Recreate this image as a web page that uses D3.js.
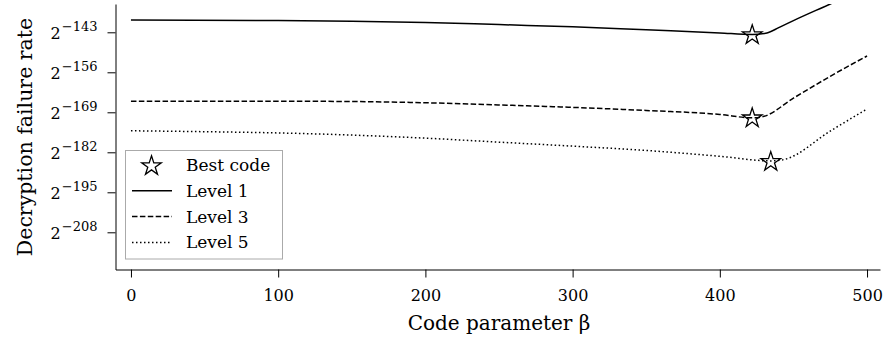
<!DOCTYPE html>
<html>
<head>
<meta charset="utf-8">
<script src="https://cdn.jsdelivr.net/npm/d3@7"></script>
<style>
  body { margin: 0; background: #fff; }
  text { font-family: "DejaVu Serif", serif; fill: #000; }
</style>
</head>
<body>
<div id="chart"></div>
<script>
// values; y values are log2 exponents
let level1Beta = [0, 100, 150, 200, 250, 300, 350, 400, 422, 432, 440, 450, 475, 500]
let level1Exp = [-139.0, -139.2, -139.4, -139.8, -140.5, -141.2, -142.2, -143.2, -143.7, -143.2, -141.5, -139.2, -133.8, -128.3]

let level3Beta = [0, 100, 150, 200, 250, 300, 350, 400, 422, 430, 450, 475, 500]
let level3Exp = [-165.4, -165.4, -165.5, -165.9, -166.6, -167.4, -168.4, -169.7, -170.8, -170.3, -164.4, -157.3, -150.7]

let level5Beta = [0, 50, 100, 150, 200, 250, 300, 350, 400, 435, 444, 475, 500]
let level5Exp = [-175.0, -175.3, -175.7, -176.4, -177.4, -178.7, -180.0, -181.4, -183.3, -184.8, -184.3, -175.1, -167.9]

let starBeta = [422, 422, 434.6]
let starExp = [-143.9, -170.9, -185.1]

let xTicks = [0, 100, 200, 300, 400, 500]
let yTickExp = [-143, -156, -169, -182, -195, -208]

let seriesNames = ["Level 1", "Level 3", "Level 5"]

let width = 883
let height = 341
let margin = { top: 4, right: 3, bottom: 71.5, left: 115.5 }

let x = d3.scaleLinear()
    .domain([-10.5, 508.8])
    .range([margin.left, width - margin.right])

let y = d3.scaleLog().base(2)
    .domain([Math.pow(2, -220.09), Math.pow(2, -133.8)])
    .range([height - margin.bottom, margin.top])

let svg = d3.select('#chart')
    .append('svg')
    .attr('width', width)
    .attr('height', height)

svg.append('clipPath').attr('id', 'plot')
    .append('rect')
    .attr('x', margin.left)
    .attr('y', margin.top)
    .attr('width', width - margin.right - margin.left)
    .attr('height', height - margin.bottom - margin.top)

// axes
let xAxis = d3.axisBottom(x).tickValues(xTicks).tickSize(8).tickPadding(12).tickSizeOuter(0)
let yAxis = d3.axisLeft(y)
    .tickValues(yTickExp.map(e => Math.pow(2, e)))
    .tickSize(8).tickPadding(10).tickSizeOuter(0)

let gx = svg.append('g')
    .attr('transform', `translate(0,${height - margin.bottom})`)
    .call(xAxis)
gx.selectAll('text').attr('font-size', '16px').attr('font-family', 'DejaVu Serif')

let gy = svg.append('g')
    .attr('transform', `translate(${margin.left},0)`)
    .call(yAxis)

gy.selectAll('.tick text').each(function (d, i) {
    let t = d3.select(this)
    t.text(null)
        .attr('font-family', 'DejaVu Serif')
        .attr('font-size', '16px')
        .attr('dy', '0.38em')
    t.append('tspan').text('2')
    t.append('tspan')
        .attr('dy', -7.4)
        .attr('dx', 1)
        .attr('font-size', '13px')
        .text('\u2212' + (-yTickExp[i]))
})

svg.selectAll('.domain, .tick line').attr('stroke', '#000').attr('stroke-width', 1)

// lines
let series = [
    { name: seriesNames[0], beta: level1Beta, exp: level1Exp, dash: null },
    { name: seriesNames[1], beta: level3Beta, exp: level3Exp, dash: '5.5,2.4' },
    { name: seriesNames[2], beta: level5Beta, exp: level5Exp, dash: '1.5,2.5' }
]

let line = d3.line()
    .x(d => x(d[0]))
    .y(d => y(Math.pow(2, d[1])))
    .curve(d3.curveMonotoneX)

let plot = svg.append('g').attr('clip-path', 'url(#plot)')

plot.selectAll('path.series')
    .data(series)
    .join('path')
    .attr('class', 'series')
    .attr('fill', 'none')
    .attr('stroke', '#000')
    .attr('stroke-width', 1.5)
    .attr('stroke-dasharray', d => d.dash)
    .attr('d', d => line(d.beta.map((b, i) => [b, d.exp[i]])))

let star = d3.symbol(d3.symbolStar, 118)

plot.selectAll('path.star')
    .data(starBeta.map((b, i) => [b, starExp[i]]))
    .join('path')
    .attr('class', 'star')
    .attr('d', star)
    .attr('transform', d => `translate(${x(d[0])},${y(Math.pow(2, d[1]))})`)
    .attr('fill', 'none')
    .attr('stroke', '#000')
    .attr('stroke-width', 1.3)

// axis labels
svg.append('text')
    .attr('x', x(250))
    .attr('y', 330)
    .attr('text-anchor', 'middle')
    .attr('font-size', '20px')
    .text('Code parameter \u03b2')

svg.append('text')
    .attr('transform', 'rotate(-90)')
    .attr('x', -137)
    .attr('y', 32)
    .attr('text-anchor', 'middle')
    .attr('font-size', '20.5px')
    .text('Decryption failure rate')

// legend
let legend = svg.append('g')
legend.append('rect')
    .attr('x', 125.5).attr('y', 150.5)
    .attr('width', 157).attr('height', 108.5)
    .attr('fill', '#fff')
    .attr('stroke', '#aaa')
    .attr('stroke-width', 1)

let legendItems = [{ name: 'Best code', dash: 'star' }].concat(series)

let item = legend.selectAll('g.item')
    .data(legendItems)
    .join('g')
    .attr('class', 'item')
    .attr('transform', (d, i) => `translate(0,${165 + i * 25.8})`)

item.filter(d => d.dash === 'star').append('path')
    .attr('d', star)
    .attr('transform', 'translate(151.5,1)')
    .attr('fill', 'none')
    .attr('stroke', '#000')
    .attr('stroke-width', 1.3)

item.filter(d => d.dash !== 'star').append('line')
    .attr('x1', 132).attr('x2', 172)
    .attr('y1', 0).attr('y2', 0)
    .attr('stroke', '#000')
    .attr('stroke-width', 1.5)
    .attr('stroke-dasharray', d => d.dash)

item.append('text')
    .attr('x', 186)
    .attr('y', 6)
    .attr('font-size', '17px')
    .text(d => d.name)
</script>
</body>
</html>
